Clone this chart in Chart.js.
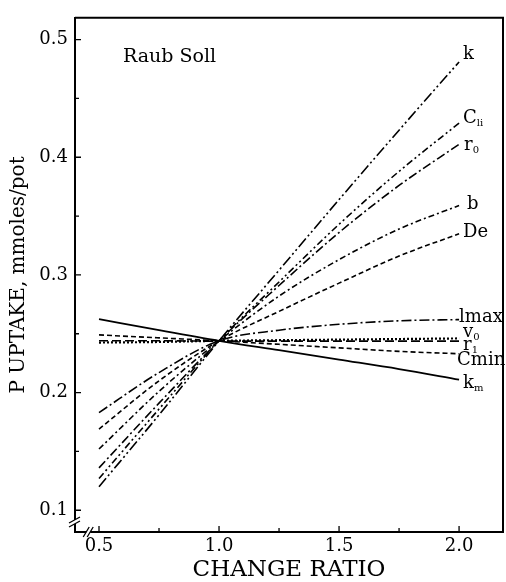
<!DOCTYPE html>
<html>
<head>
<meta charset="utf-8">
<script src="https://cdn.jsdelivr.net/npm/chart.js@4.4.1/dist/chart.umd.min.js"></script>
<style>
  html, body { margin: 0; padding: 0; background: #fff; }
</style>
</head>
<body>
<canvas id="uptakeChart" width="506" height="582"></canvas>
<script>
// change ratio of each parameter
const ratios = [0.5, 0.75, 1.0, 1.25, 1.5, 1.75, 2.0];

// P uptake (mmoles/pot)
const kVals    = [0.120, 0.181, 0.244, 0.304, 0.364, 0.423, 0.481];
const cliVals  = [0.127, 0.186, 0.244, 0.294, 0.343, 0.388, 0.429];
const r0Vals   = [0.136, 0.191, 0.244, 0.291, 0.336, 0.376, 0.411];
const bVals    = [0.152, 0.201, 0.244, 0.282, 0.313, 0.339, 0.359];
const deVals   = [0.169, 0.210, 0.244, 0.269, 0.293, 0.316, 0.335];
const imaxVals = [0.183, 0.217, 0.244, 0.253, 0.258, 0.261, 0.262];
const v0Vals   = [0.2425, 0.243, 0.244, 0.2445, 0.245, 0.2455, 0.246];
const r1Vals   = [0.244, 0.244, 0.2437, 0.2437, 0.2437, 0.2437, 0.2437];
const cminVals = [0.249, 0.2465, 0.244, 0.241, 0.238, 0.235, 0.233];
const kmVals   = [0.2624, 0.253, 0.244, 0.236, 0.228, 0.220, 0.211];

// curve labels (main text + subscript)
const labelMain = ['k', 'C', 'r', 'b', 'De', 'lmax', 'v', 'r', 'Cmin', 'k'];
const labelSub  = ['',  'li', '0', '', '',   '',     '0', '1', '',     'm'];

// axis ticks
const xTicks = [0.5, 1.0, 1.5, 2.0];
const xMinor = [0.75, 1.25, 1.75];
const yTicks = [0.1, 0.2, 0.3, 0.4, 0.5];
const yMinor = [0.15, 0.25, 0.35, 0.45];

const series = [kVals, cliVals, r0Vals, bVals, deVals, imaxVals, v0Vals, r1Vals, cminVals, kmVals];

// line styles, same order as series
const dashes = [
  [11, 3, 2, 3, 2, 3],
  [7, 3, 2, 3, 2, 3],
  [9, 3, 2, 3],
  [6, 3, 2, 3],
  [5, 3],
  [10, 3, 2, 3],
  [2, 2],
  [9, 4],
  [5, 3],
  []
];
const widths = [1.6, 1.6, 1.6, 1.6, 1.6, 1.6, 2.2, 1.6, 1.6, 1.8];
// label placement: y in data units, x in px right of the 2.0 end
const labelY  = [0.4874, 0.4328, 0.4101, 0.3597, 0.3361, 0.2639, 0.2510, 0.2400, 0.2277, 0.2076];
const labelDx = [4, 4, 5, 8, 4, 0, 4, 4, -2, 4];

const SERIF = '"DejaVu Serif", "Liberation Serif", serif';

const datasets = series.map((vals, i) => ({
  label: labelMain[i] + labelSub[i],
  data: ratios.map((r, j) => ({ x: r, y: vals[j] })),
  borderColor: '#000',
  borderWidth: widths[i],
  borderDash: dashes[i],
  pointRadius: 0,
  fill: false,
  cubicInterpolationMode: 'monotone'
}));

const decorations = {
  id: 'decorations',
  afterDraw(chart) {
    const { ctx, chartArea: a, scales: { x, y } } = chart;
    ctx.save();
    ctx.strokeStyle = '#000';
    ctx.fillStyle = '#000';

    // top + right frame
    ctx.lineWidth = 2;
    ctx.beginPath();
    ctx.moveTo(a.left, a.top);
    ctx.lineTo(a.right, a.top);
    ctx.lineTo(a.right, a.bottom);
    ctx.stroke();

    // inward tick marks
    ctx.lineWidth = 1.3;
    ctx.beginPath();
    yTicks.forEach(v => { const p = y.getPixelForValue(v); ctx.moveTo(a.left, p); ctx.lineTo(a.left + 6, p); });
    yMinor.forEach(v => { const p = y.getPixelForValue(v); ctx.moveTo(a.left, p); ctx.lineTo(a.left + 4, p); });
    xTicks.forEach(v => { const p = x.getPixelForValue(v); ctx.moveTo(p, a.bottom); ctx.lineTo(p, a.bottom - 6); });
    xMinor.forEach(v => { const p = x.getPixelForValue(v); ctx.moveTo(p, a.bottom); ctx.lineTo(p, a.bottom - 4); });
    ctx.stroke();

    // axis breaks
    const by = y.getPixelForValue(0.09);
    ctx.fillStyle = '#fff';
    ctx.fillRect(a.left - 3, by - 2, 6, 4);
    const bx = x.getPixelForValue(0.455);
    ctx.fillRect(bx - 2, a.bottom - 3, 4, 6);
    ctx.fillStyle = '#000';
    ctx.lineWidth = 1.3;
    ctx.beginPath();
    ctx.moveTo(a.left - 6, by + 1); ctx.lineTo(a.left + 5, by - 5);
    ctx.moveTo(a.left - 6, by + 5); ctx.lineTo(a.left + 5, by - 1);
    ctx.moveTo(bx - 5, a.bottom + 5); ctx.lineTo(bx + 1, a.bottom - 5);
    ctx.moveTo(bx - 1, a.bottom + 5); ctx.lineTo(bx + 5, a.bottom - 5);
    ctx.stroke();

    // curve labels
    ctx.textBaseline = 'middle';
    ctx.textAlign = 'left';
    const xEnd = x.getPixelForValue(ratios[ratios.length - 1]);
    labelMain.forEach((t, i) => {
      const px = xEnd + labelDx[i];
      const py = y.getPixelForValue(labelY[i]);
      ctx.font = '18px ' + SERIF;
      ctx.fillText(t, px, py);
      if (labelSub[i]) {
        const w = ctx.measureText(t).width;
        ctx.font = '10px ' + SERIF;
        ctx.fillText(labelSub[i], px + w, py + 5);
      }
    });

    // panel title
    ctx.font = '19px ' + SERIF;
    ctx.fillText('Raub Soll', x.getPixelForValue(0.6), y.getPixelForValue(0.4849));
    ctx.restore();
  }
};

new Chart(document.getElementById('uptakeChart'), {
  type: 'line',
  data: { datasets },
  options: {
    responsive: false,
    animation: false,
    devicePixelRatio: 1,
    layout: { padding: { top: 12, right: 3, left: 0, bottom: 0 } },
    plugins: { legend: { display: false }, tooltip: { enabled: false } },
    scales: {
      x: {
        type: 'linear',
        min: 0.4,
        max: 2.183,
        afterFit: s => { s.height = 50; },
        afterBuildTicks: s => { s.ticks = xTicks.map(v => ({ value: v })); },
        grid: { display: false, tickLength: 0 },
        border: { display: true, color: '#000', width: 2 },
        ticks: {
          color: '#000',
          padding: 4,
          maxRotation: 0,
          font: { family: SERIF, size: 18 },
          callback: v => v.toFixed(1)
        },
        title: {
          display: true,
          text: 'CHANGE RATIO',
          color: '#000',
          padding: { top: 0, bottom: -2 },
          font: { family: SERIF, size: 23 }
        }
      },
      y: {
        min: 0.0815,
        max: 0.5185,
        afterFit: s => { s.width = 75; },
        afterBuildTicks: s => { s.ticks = yTicks.map(v => ({ value: v })); },
        grid: { display: false, tickLength: 0 },
        border: { display: true, color: '#000', width: 2 },
        ticks: {
          color: '#000',
          padding: 7,
          font: { family: SERIF, size: 18 },
          callback: v => v.toFixed(1)
        },
        title: {
          display: true,
          text: 'P UPTAKE, mmoles/pot',
          color: '#000',
          padding: { top: 7, bottom: 0 },
          font: { family: SERIF, size: 20 }
        }
      }
    }
  },
  plugins: [decorations]
});
</script>
</body>
</html>
